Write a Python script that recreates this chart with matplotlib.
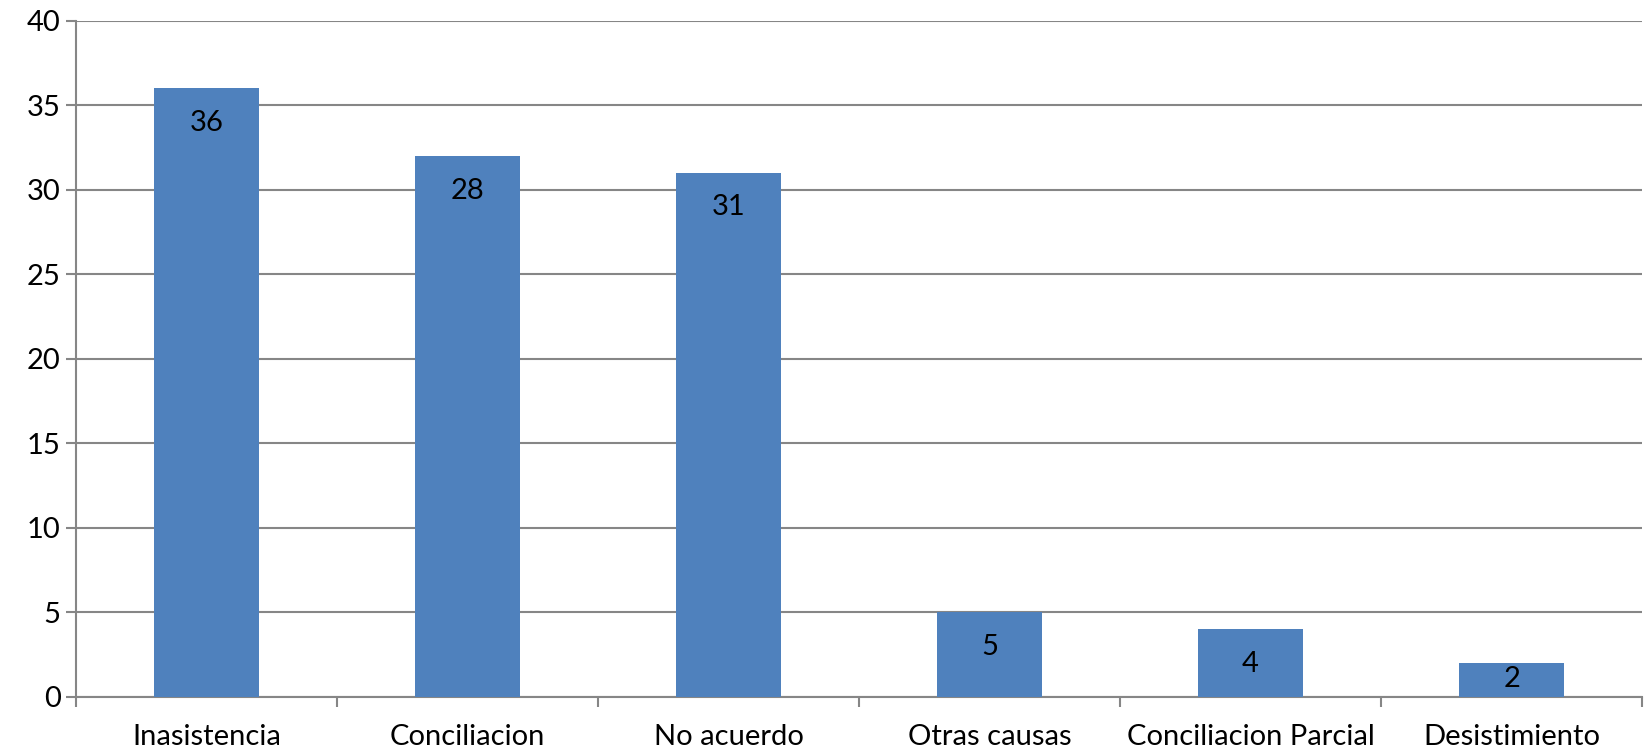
import matplotlib.pyplot as plt
import numpy as np

categories = ["Inasistencia", "Conciliacion", "No acuerdo", "Otras causas",
              "Conciliacion Parcial", "Desistimiento"]
bar_heights = [36, 32, 31, 5, 4, 2]
bar_labels = ["36", "28", "31", "5", "4", "2"]

plt.rcParams['font.family'] = ['Lato', 'DejaVu Sans']
grey = "#868686"
fs = 21

fig = plt.figure(figsize=(16.49, 7.53), dpi=100)
ax = fig.add_axes([0.0461, 0.0748, 0.9497, 0.8977])

x = np.arange(len(categories))
bars = ax.bar(x, bar_heights, width=0.4, color="#4F81BD", zorder=3)
for rect, lab in zip(bars, bar_labels):
    h = rect.get_height()
    # label sits just under the bar top, but stays inside short bars
    ypos = max(h - 2.05, 1.05)
    ax.text(rect.get_x() + rect.get_width() / 2, ypos, lab,
            ha="center", va="center", fontsize=fs, color="black", zorder=4)

ax.set_xlim(-0.5, len(categories) - 0.5)
ax.set_ylim(0, 40)
ax.set_yticks(range(0, 41, 5))
ax.set_xticks(x)
ax.set_xticklabels(categories)
ax.set_xticks(np.arange(-0.5, len(categories)), minor=True)

ax.tick_params(axis="x", which="major", length=0, pad=20, labelsize=fs)
ax.tick_params(axis="x", which="minor", length=7, width=1.5, color=grey)
ax.tick_params(axis="y", length=7, width=1.5, color=grey, labelsize=fs, pad=4)

ax.yaxis.grid(True, color=grey, linewidth=1.5, zorder=0)
ax.set_axisbelow(True)
for side in ["top", "right"]:
    ax.spines[side].set_visible(False)
for side in ["left", "bottom"]:
    ax.spines[side].set_color(grey)
    ax.spines[side].set_linewidth(1.5)

fig.savefig("out.png", dpi=100)
